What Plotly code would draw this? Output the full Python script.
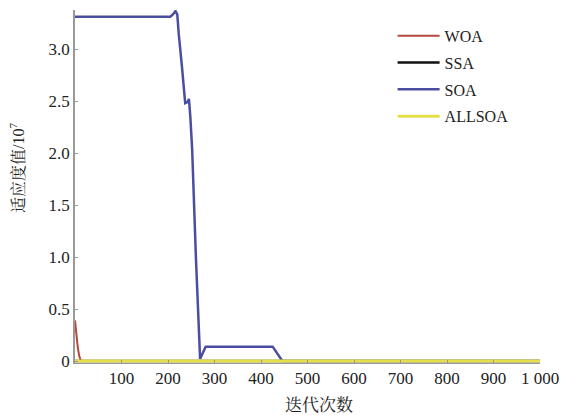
import plotly.graph_objects as go

# Data, values in units of 10^7
woa_iter = [0, 3, 6, 9, 12, 15, 1000]
woa_val = [0.39, 0.25, 0.13, 0.05, 0.01, 0.0, 0.0]

ssa_iter = [0, 1000]
ssa_val = [0.0, 0.0]

soa_iter = [0, 205, 211, 216, 220, 223, 230, 237, 242, 245, 248, 252, 260, 269, 275, 281, 425, 446, 1000]
soa_val = [3.31, 3.31, 3.335, 3.365, 3.33, 3.15, 2.83, 2.48, 2.49, 2.52, 2.35, 2.03, 1.0, 0.02, 0.08, 0.138, 0.138, 0.0, 0.0]

allsoa_iter = [0, 1000]
allsoa_val = [0.0, 0.0]

x_tickvals = [100, 200, 300, 400, 500, 600, 700, 800, 900, 1000]
x_ticktext = ["100", "200", "300", "400", "500", "600", "700", "800", "900", "1 000"]
y_tickvals = [0, 0.5, 1.0, 1.5, 2.0, 2.5, 3.0]
y_ticktext = ["0", "0.5", "1.0", "1.5", "2.0", "2.5", "3.0"]

x_title = "迭代次数"
y_title = "适应度值/10<sup>7</sup>"

FONT = "Liberation Serif, Times New Roman, Noto Serif CJK SC, Noto Sans CJK SC, serif"

fig = go.Figure()
fig.add_trace(go.Scatter(x=woa_iter, y=woa_val, mode="lines", name="WOA",
                         line=dict(color="#b5493c", width=2), legendgroup="a"))
fig.add_trace(go.Scatter(x=ssa_iter, y=ssa_val, mode="lines", name="SSA",
                         line=dict(color="#111111", width=2.5), legendgroup="b"))
fig.add_trace(go.Scatter(x=soa_iter, y=soa_val, mode="lines", name="SOA",
                         line=dict(color="#4a4ea0", width=2.5), legendgroup="c"))
fig.add_trace(go.Scatter(x=allsoa_iter, y=allsoa_val, mode="lines", name="ALLSOA",
                         line=dict(color="#e6df4a", width=3), legendgroup="d"))

# page body has an 8px default margin, so the figure is sized/offset to compensate
fig.update_layout(
    width=559, height=407,
    margin=dict(l=67, r=27, t=2, b=52),
    paper_bgcolor="white", plot_bgcolor="white",
    font=dict(family=FONT, size=17, color="#222222"),
    showlegend=True,
    legend=dict(x=0.683, y=0.975, xanchor="left", yanchor="top",
                bgcolor="rgba(0,0,0,0)", borderwidth=0, itemwidth=42,
                font=dict(family=FONT, size=16, color="#222222"),
                traceorder="grouped", tracegroupgap=3),
    xaxis=dict(range=[0, 1000], tickvals=x_tickvals, ticktext=x_ticktext,
               showgrid=False, zeroline=False, showline=True, linecolor="#999999",
               linewidth=1, ticks="inside", ticklen=3, tickcolor="#999999",
               automargin=False, tickfont=dict(size=17)),
    yaxis=dict(range=[-0.019, 3.375], tickvals=y_tickvals, ticktext=y_ticktext,
               showgrid=False, zeroline=False, showline=True, linecolor="#999999",
               linewidth=1.5, ticks="inside", ticklen=3, tickcolor="#999999",
               automargin=False, tickfont=dict(size=17)),
    annotations=[
        dict(text=x_title, xref="paper", yref="paper", x=0.5247, y=-0.1218,
             xanchor="center", yanchor="middle", showarrow=False,
             font=dict(family=FONT, size=17, color="#222222")),
        dict(text=y_title, xref="paper", yref="paper", x=-0.1247, y=0.5524,
             xanchor="center", yanchor="middle", showarrow=False, textangle=-90,
             font=dict(family=FONT, size=16, color="#222222")),
    ],
)

fig.write_html("out.html")
